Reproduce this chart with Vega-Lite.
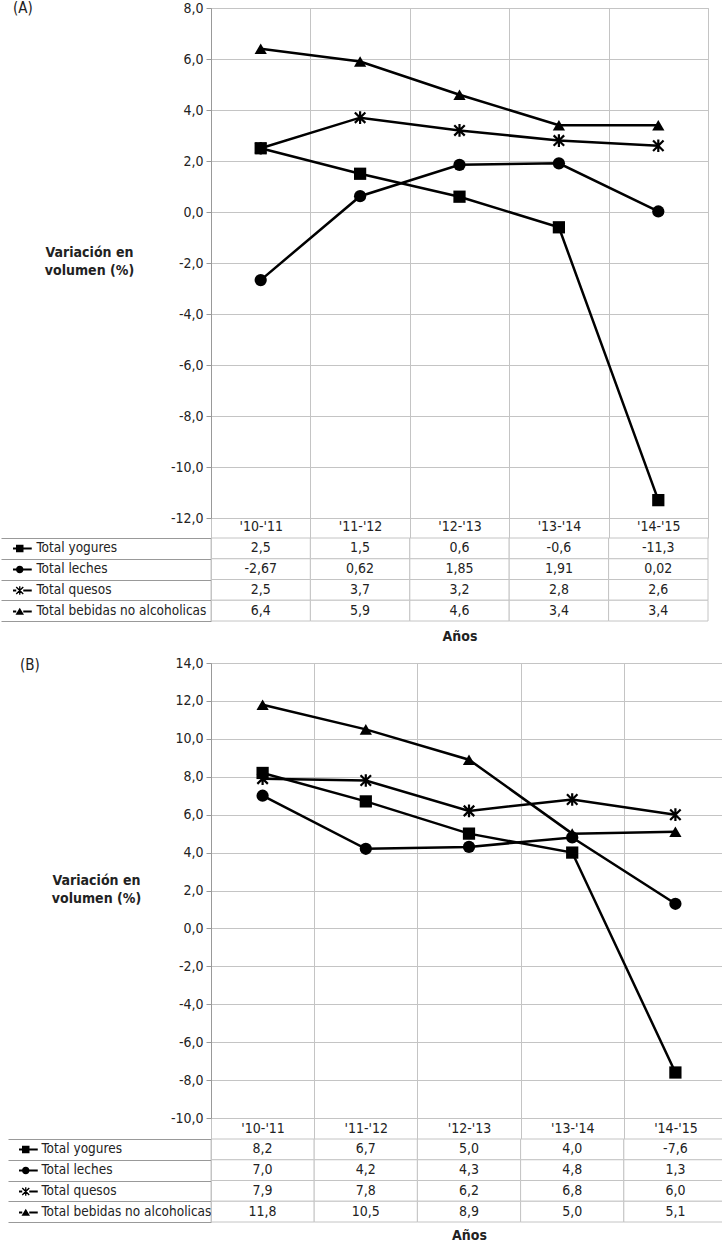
{
  "$schema": "https://vega.github.io/schema/vega-lite/v6.json",
  "padding": {"left": 0, "top": 0, "right": 0, "bottom": 0},
  "background": "white",
  "datasets": {
    "A": [
      {"series": "Total yogures", "year": "'10-'11", "value": 2.5},
      {"series": "Total yogures", "year": "'11-'12", "value": 1.5},
      {"series": "Total yogures", "year": "'12-'13", "value": 0.6},
      {"series": "Total yogures", "year": "'13-'14", "value": -0.6},
      {"series": "Total yogures", "year": "'14-'15", "value": -11.3},
      {"series": "Total leches", "year": "'10-'11", "value": -2.67},
      {"series": "Total leches", "year": "'11-'12", "value": 0.62},
      {"series": "Total leches", "year": "'12-'13", "value": 1.85},
      {"series": "Total leches", "year": "'13-'14", "value": 1.91},
      {"series": "Total leches", "year": "'14-'15", "value": 0.02},
      {"series": "Total quesos", "year": "'10-'11", "value": 2.5},
      {"series": "Total quesos", "year": "'11-'12", "value": 3.7},
      {"series": "Total quesos", "year": "'12-'13", "value": 3.2},
      {"series": "Total quesos", "year": "'13-'14", "value": 2.8},
      {"series": "Total quesos", "year": "'14-'15", "value": 2.6},
      {"series": "Total bebidas no alcoholicas", "year": "'10-'11", "value": 6.4},
      {"series": "Total bebidas no alcoholicas", "year": "'11-'12", "value": 5.9},
      {"series": "Total bebidas no alcoholicas", "year": "'12-'13", "value": 4.6},
      {"series": "Total bebidas no alcoholicas", "year": "'13-'14", "value": 3.4},
      {"series": "Total bebidas no alcoholicas", "year": "'14-'15", "value": 3.4}
    ],
    "B": [
      {"series": "Total yogures", "year": "'10-'11", "value": 8.2},
      {"series": "Total yogures", "year": "'11-'12", "value": 6.7},
      {"series": "Total yogures", "year": "'12-'13", "value": 5.0},
      {"series": "Total yogures", "year": "'13-'14", "value": 4.0},
      {"series": "Total yogures", "year": "'14-'15", "value": -7.6},
      {"series": "Total leches", "year": "'10-'11", "value": 7.0},
      {"series": "Total leches", "year": "'11-'12", "value": 4.2},
      {"series": "Total leches", "year": "'12-'13", "value": 4.3},
      {"series": "Total leches", "year": "'13-'14", "value": 4.8},
      {"series": "Total leches", "year": "'14-'15", "value": 1.3},
      {"series": "Total quesos", "year": "'10-'11", "value": 7.9},
      {"series": "Total quesos", "year": "'11-'12", "value": 7.8},
      {"series": "Total quesos", "year": "'12-'13", "value": 6.2},
      {"series": "Total quesos", "year": "'13-'14", "value": 6.8},
      {"series": "Total quesos", "year": "'14-'15", "value": 6.0},
      {"series": "Total bebidas no alcoholicas", "year": "'10-'11", "value": 11.8},
      {"series": "Total bebidas no alcoholicas", "year": "'11-'12", "value": 10.5},
      {"series": "Total bebidas no alcoholicas", "year": "'12-'13", "value": 8.9},
      {"series": "Total bebidas no alcoholicas", "year": "'13-'14", "value": 5.0},
      {"series": "Total bebidas no alcoholicas", "year": "'14-'15", "value": 5.1}
    ]
  },
  "vconcat": [
    {
      "vconcat": [
        {
          "width": 497,
          "height": 510,
          "data": {"name": "A"},
          "title": {"text": "(A)", "anchor": "start", "frame": "group", "orient": "top", "offset": 0, "dx": -198, "dy": 22, "baseline": "middle", "fontSize": 15, "fontWeight": "normal", "color": "#222"},
          "encoding": {
            "x": {"field": "year", "type": "ordinal", "sort": ["'10-'11", "'11-'12", "'12-'13", "'13-'14", "'14-'15"], "bandPosition": 0.5,
              "scale": {"type": "band", "paddingInner": 0, "paddingOuter": 0},
              "axis": {"orient": "bottom", "title": null, "domain": false, "grid": true, "tickBand": "extent", "tickSize": 20, "labelPadding": -19, "labelAngle": 0}},
            "y": {"field": "value", "type": "quantitative", "scale": {"domain": [-12, 8], "nice": false, "zero": false},
              "axis": {"values": [-12, -10, -8, -6, -4, -2, 0, 2, 4, 6, 8], "format": ".1f", "title": ["Variación en", "volumen (%)"], "titleAngle": 0, "titleX": -122, "titleY": 244, "titleAlign": "center", "titleBaseline": "middle"}}
          },
          "layer": [
            {"mark": {"type": "line", "color": "black", "strokeWidth": 2.5}, "encoding": {"detail": {"field": "series"}}},
            {"transform": [{"filter": "datum.series === 'Total yogures'"}], "mark": {"type": "point", "shape": "square", "filled": true, "color": "black", "size": 150, "opacity": 1}},
            {"transform": [{"filter": "datum.series === 'Total leches'"}], "mark": {"type": "point", "shape": "circle", "filled": true, "color": "black", "size": 150, "opacity": 1}},
            {"transform": [{"filter": "datum.series === 'Total quesos'"}], "mark": {"type": "point", "shape": "M-1,-1L1,1M-1,1L1,-1M0,-1.2V1.2", "filled": false, "stroke": "black", "strokeWidth": 2.2, "size": 110, "opacity": 1}},
            {"transform": [{"filter": "datum.series === 'Total bebidas no alcoholicas'"}], "mark": {"type": "point", "shape": "triangle-up", "filled": true, "color": "black", "size": 150, "opacity": 1}}
          ]
        },
        {
          "width": 497,
          "height": 83,
          "data": {"name": "A"},
          "view": {"stroke": null},
          "encoding": {
            "x": {"field": "year", "type": "ordinal", "sort": ["'10-'11", "'11-'12", "'12-'13", "'13-'14", "'14-'15"],
              "scale": {"paddingInner": 0, "paddingOuter": 0},
              "axis": {"orient": "bottom", "labels": false, "ticks": false, "domain": false, "grid": false, "title": "Años", "titleFontWeight": "bold", "titlePadding": 8}},
            "y": {"field": "series", "type": "nominal", "sort": ["Total yogures", "Total leches", "Total quesos", "Total bebidas no alcoholicas"],
              "scale": {"paddingInner": 0, "paddingOuter": 0},
              "axis": {"title": null, "labels": false, "ticks": true, "tickBand": "extent", "tickSize": 210, "grid": false, "domain": true, "domainColor": "#c4c4c4"}}
          },
          "layer": [
            {"mark": {"type": "rect", "fill": "white", "stroke": "#c4c4c4", "strokeWidth": 1}},
            {"transform": [{"filter": "datum.series !== 'Total leches'"}], "mark": {"type": "text", "fontSize": 14, "color": "#222"}, "encoding": {"text": {"field": "value", "type": "quantitative", "format": ".1f"}}},
            {"transform": [{"filter": "datum.series === 'Total leches'"}], "mark": {"type": "text", "fontSize": 14, "color": "#222"}, "encoding": {"text": {"field": "value", "type": "quantitative", "format": ".2f"}}},
            {"mark": {"type": "point", "opacity": 0, "filled": true, "color": "black"},
              "encoding": {"shape": {"field": "series", "type": "nominal",
                "scale": {"domain": ["Total yogures", "Total leches", "Total quesos", "Total bebidas no alcoholicas"],
                  "range": [
                    "M-2.4,-0.2H-0.7V0.2H-2.4ZM0.7,-0.2H2.4V0.2H0.7ZM-0.75,-0.75H0.75V0.75H-0.75Z",
                    "M-2.4,-0.2H-0.7V0.2H-2.4ZM0.7,-0.2H2.4V0.2H0.7ZM-0.75,0A0.75,0.75,0,1,1,0.75,0A0.75,0.75,0,1,1,-0.75,0Z",
                    "M-2.4,-0.2H-0.7V0.2H-2.4ZM0.7,-0.2H2.4V0.2H0.7ZM-0.6,-0.8L0.8,0.6L0.6,0.8L-0.8,-0.6ZM0.6,-0.8L0.8,-0.6L-0.6,0.8L-0.8,0.6ZM-0.13,-0.85H0.13V0.85H-0.13Z",
                    "M-2.4,-0.2H-0.7V0.2H-2.4ZM0.7,-0.2H2.4V0.2H0.7ZM0,-0.75L0.85,0.65H-0.85Z"
                  ]},
                "legend": {"orient": "none", "legendX": -198, "legendY": 0, "title": null, "padding": 0, "symbolSize": 100, "symbolFillColor": "black", "symbolStrokeColor": "black", "symbolStrokeWidth": 0.6, "symbolOpacity": 1, "labelFontSize": 13.5, "labelColor": "#222", "labelOffset": 10, "clipHeight": 20.75, "rowPadding": 0, "labelLimit": 300}}}}
          ]
        }
      ],
      "spacing": 20,
      "bounds": "flush",
      "resolve": {"scale": {"shape": "independent"}, "legend": {"shape": "independent"}}
    },
    {
      "vconcat": [
        {
          "width": 516,
          "height": 455,
          "data": {"name": "B"},
          "title": {"text": "(B)", "anchor": "start", "frame": "group", "orient": "top", "offset": 0, "dx": -191, "dy": 24, "baseline": "middle", "fontSize": 15, "fontWeight": "normal", "color": "#222"},
          "encoding": {
            "x": {"field": "year", "type": "ordinal", "sort": ["'10-'11", "'11-'12", "'12-'13", "'13-'14", "'14-'15"], "bandPosition": 0.5,
              "scale": {"type": "band", "paddingInner": 0, "paddingOuter": 0},
              "axis": {"orient": "bottom", "title": null, "domain": false, "grid": true, "tickBand": "extent", "tickSize": 21, "labelPadding": -18, "labelAngle": 0}},
            "y": {"field": "value", "type": "quantitative", "scale": {"domain": [-10, 14], "nice": false, "zero": false},
              "axis": {"values": [-10, -8, -6, -4, -2, 0, 2, 4, 6, 8, 10, 12, 14], "format": ".1f", "title": ["Variación en", "volumen (%)"], "titleAngle": 0, "titleX": -115, "titleY": 217, "titleAlign": "center", "titleBaseline": "middle"}}
          },
          "layer": [
            {"mark": {"type": "line", "color": "black", "strokeWidth": 2.5}, "encoding": {"detail": {"field": "series"}}},
            {"transform": [{"filter": "datum.series === 'Total yogures'"}], "mark": {"type": "point", "shape": "square", "filled": true, "color": "black", "size": 150, "opacity": 1}},
            {"transform": [{"filter": "datum.series === 'Total leches'"}], "mark": {"type": "point", "shape": "circle", "filled": true, "color": "black", "size": 150, "opacity": 1}},
            {"transform": [{"filter": "datum.series === 'Total quesos'"}], "mark": {"type": "point", "shape": "M-1,-1L1,1M-1,1L1,-1M0,-1.2V1.2", "filled": false, "stroke": "black", "strokeWidth": 2.2, "size": 110, "opacity": 1}},
            {"transform": [{"filter": "datum.series === 'Total bebidas no alcoholicas'"}], "mark": {"type": "point", "shape": "triangle-up", "filled": true, "color": "black", "size": 150, "opacity": 1}}
          ]
        },
        {
          "width": 516,
          "height": 83,
          "data": {"name": "B"},
          "view": {"stroke": null},
          "encoding": {
            "x": {"field": "year", "type": "ordinal", "sort": ["'10-'11", "'11-'12", "'12-'13", "'13-'14", "'14-'15"],
              "scale": {"paddingInner": 0, "paddingOuter": 0},
              "axis": {"orient": "bottom", "labels": false, "ticks": false, "domain": false, "grid": false, "title": "Años", "titleFontWeight": "bold", "titlePadding": 6}},
            "y": {"field": "series", "type": "nominal", "sort": ["Total yogures", "Total leches", "Total quesos", "Total bebidas no alcoholicas"],
              "scale": {"paddingInner": 0, "paddingOuter": 0},
              "axis": {"title": null, "labels": false, "ticks": true, "tickBand": "extent", "tickSize": 203, "grid": false, "domain": true, "domainColor": "#c4c4c4"}}
          },
          "layer": [
            {"mark": {"type": "rect", "fill": "white", "stroke": "#c4c4c4", "strokeWidth": 1}},
            {"mark": {"type": "text", "fontSize": 14, "color": "#222"}, "encoding": {"text": {"field": "value", "type": "quantitative", "format": ".1f"}}},
            {"mark": {"type": "point", "opacity": 0, "filled": true, "color": "black"},
              "encoding": {"shape": {"field": "series", "type": "nominal",
                "scale": {"domain": ["Total yogures", "Total leches", "Total quesos", "Total bebidas no alcoholicas"],
                  "range": [
                    "M-2.4,-0.2H-0.7V0.2H-2.4ZM0.7,-0.2H2.4V0.2H0.7ZM-0.75,-0.75H0.75V0.75H-0.75Z",
                    "M-2.4,-0.2H-0.7V0.2H-2.4ZM0.7,-0.2H2.4V0.2H0.7ZM-0.75,0A0.75,0.75,0,1,1,0.75,0A0.75,0.75,0,1,1,-0.75,0Z",
                    "M-2.4,-0.2H-0.7V0.2H-2.4ZM0.7,-0.2H2.4V0.2H0.7ZM-0.6,-0.8L0.8,0.6L0.6,0.8L-0.8,-0.6ZM0.6,-0.8L0.8,-0.6L-0.6,0.8L-0.8,0.6ZM-0.13,-0.85H0.13V0.85H-0.13Z",
                    "M-2.4,-0.2H-0.7V0.2H-2.4ZM0.7,-0.2H2.4V0.2H0.7ZM0,-0.75L0.85,0.65H-0.85Z"
                  ]},
                "legend": {"orient": "none", "legendX": -192, "legendY": 0, "title": null, "padding": 0, "symbolSize": 100, "symbolFillColor": "black", "symbolStrokeColor": "black", "symbolStrokeWidth": 0.6, "symbolOpacity": 1, "labelFontSize": 13.5, "labelColor": "#222", "labelOffset": 9, "clipHeight": 20.75, "rowPadding": 0, "labelLimit": 300}}}}
          ]
        }
      ],
      "spacing": 21,
      "bounds": "flush",
      "resolve": {"scale": {"shape": "independent"}, "legend": {"shape": "independent"}}
    }
  ],
  "spacing": 12,
  "resolve": {"scale": {"shape": "independent"}, "legend": {"shape": "independent"}},
  "config": {
    "font": "Liberation Sans Narrow, DejaVu Sans Condensed, sans-serif",
    "view": {"stroke": "#c4c4c4"},
    "locale": {"number": {"decimal": ",", "thousands": ".", "grouping": [3], "currency": ["", " €"], "minus": "-"}},
    "axis": {
      "labelFontSize": 14, "labelColor": "#222", "titleFontSize": 14, "titleColor": "#222", "titleFontWeight": "bold",
      "gridColor": "#c4c4c4", "gridOpacity": 1, "domainColor": "#999", "tickColor": "#c4c4c4", "labelPadding": 3, "titleLineHeight": 18
    },
    "axisY": {"tickSize": 5, "tickColor": "#999"}
  }
}
